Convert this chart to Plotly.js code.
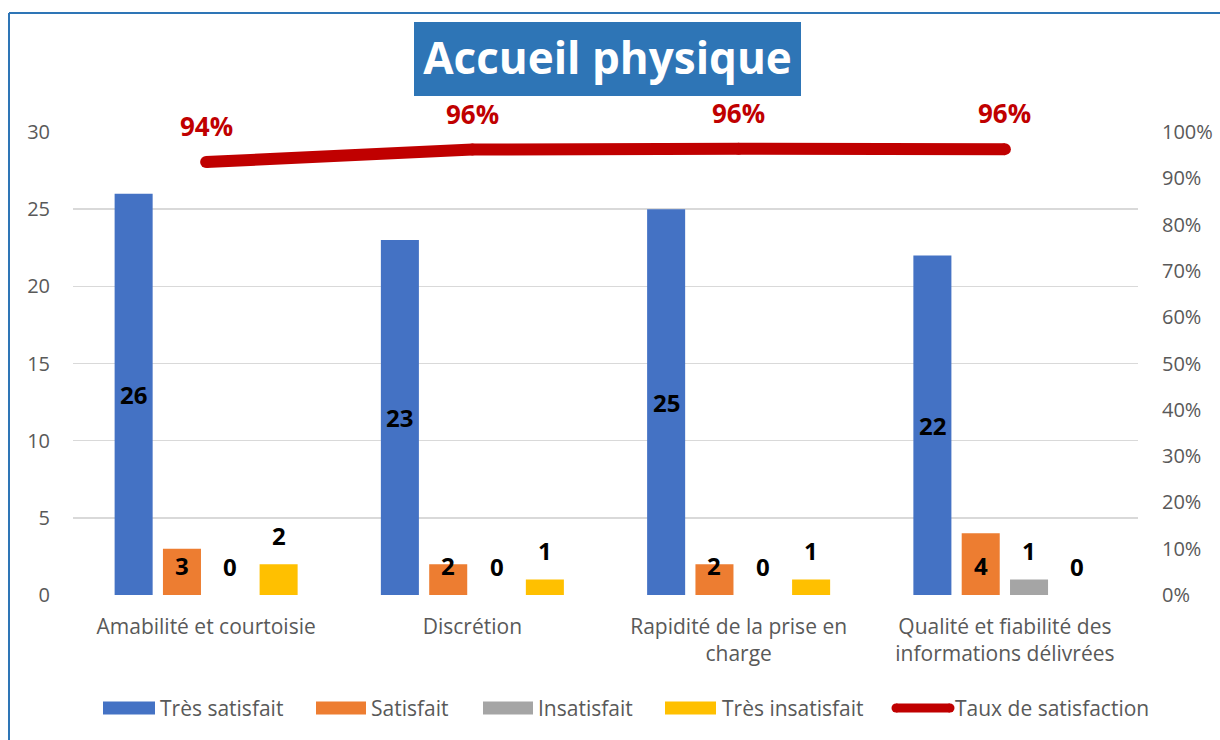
<!DOCTYPE html>
<html>
<head>
<meta charset="utf-8">
<script src="https://cdn.plot.ly/plotly-3.0.1.min.js"></script>
<style>
  html, body { margin: 0; padding: 0; background: #ffffff; }
  #chart { width: 1220px; height: 740px; }
</style>
</head>
<body>
<div id="chart"></div>
<script>
// ---- Data ----
const categories = ['Amabilité et courtoisie', 'Discrétion', 'Rapidité de la prise en charge', 'Qualité et fiabilité des informations délivrées'];
const tickLabels = ['Amabilité et courtoisie', 'Discrétion', 'Rapidité de la prise en<br>charge', 'Qualité et fiabilité des<br>informations délivrées'];
const tresSatisfait = [26, 23, 25, 22];
const satisfait = [3, 2, 2, 4];
const insatisfait = [0, 0, 0, 1];
const tresInsatisfait = [2, 1, 1, 0];
const tauxSatisfaction = [0.935, 0.962, 0.964, 0.963];
const seriesNames = ['Très satisfait', 'Satisfait', 'Insatisfait', 'Très insatisfait', 'Taux de satisfaction'];
const leftTicks = [0, 5, 10, 15, 20, 25, 30];
const rightTicks = [0, 0.1, 0.2, 0.3, 0.4, 0.5, 0.6, 0.7, 0.8, 0.9, 1.0];

// ---- Style ----
const colors = ['#4472C4', '#ED7D31', '#A5A5A5', '#FFC000', '#C00000'];
const FONT = '"Open Sans", "Noto Sans", sans-serif';
const W = 1220, H = 740;
const M = { l: 73, r: 82, t: 132, b: 145 };
const PW = W - M.l - M.r, PH = H - M.t - M.b;
const px2x = p => (p - M.l) / PW;
const px2y = p => (H - M.b - p) / PH;

const barSeries = [tresSatisfait, satisfait, insatisfait, tresInsatisfait];
const traces = barSeries.map((vals, i) => ({
  type: 'bar', name: seriesNames[i], x: categories, y: vals,
  marker: { color: colors[i] }, showlegend: false, hoverinfo: 'x+y+name'
}));
traces.push({
  type: 'scatter', mode: 'lines+markers', name: seriesNames[4], x: categories, y: tauxSatisfaction,
  yaxis: 'y2', line: { color: colors[4], width: 12 }, marker: { color: colors[4], size: 12 },
  showlegend: false
});

// ---- Data labels ----
const slot = 48.3; // px per bar slot in a group
const annotations = [];
barSeries.forEach((vals, i) => {
  const xs = (i - 1.5) * slot;
  vals.forEach((v, j) => {
    let a = { x: categories[j], xref: 'x', yref: 'y', xshift: xs, text: String(v), showarrow: false,
      font: { family: FONT, size: 24, color: '#000000', weight: 'bold' }, yanchor: 'middle' };
    if (i === 0) { a.y = v / 2; }
    else if (i === 1) { a.y = 0; a.yshift = 30; }
    else { a.y = v; a.yshift = 29; }
    annotations.push(a);
  });
});
tauxSatisfaction.forEach((v, j) => {
  annotations.push({ x: categories[j], y: v, xref: 'x', yref: 'y2', yshift: 36, yanchor: 'middle',
    text: Math.round(v * 100) + '%', showarrow: false,
    font: { family: FONT, size: 26, color: '#C00000', weight: 'bold' } });
});

// ---- Custom legend ----
const shapes = [];
const legendY = 708;
const legendItems = [
  { sx0: 103, sx1: 155, tx: 158 },
  { sx0: 316, sx1: 366, tx: 369 },
  { sx0: 483, sx1: 533, tx: 536 },
  { sx0: 665, sx1: 716, tx: 720 },
  { sx0: 896, sx1: 950, tx: 953 }
];
legendItems.forEach((it, i) => {
  if (i < 4) {
    shapes.push({ type: 'rect', xref: 'paper', yref: 'paper', x0: px2x(it.sx0), x1: px2x(it.sx1),
      y0: px2y(legendY + 6.5), y1: px2y(legendY - 6.5), fillcolor: colors[i], line: { width: 0 } });
  } else {
    shapes.push({ type: 'line', xref: 'paper', yref: 'paper', x0: px2x(it.sx0), x1: px2x(it.sx1),
      y0: px2y(legendY), y1: px2y(legendY), line: { color: colors[i], width: 9 } });
    shapes.push({ type: 'circle', xref: 'paper', yref: 'paper', x0: px2x(it.sx0 - 4.5), x1: px2x(it.sx0 + 4.5),
      y0: px2y(legendY + 4.5), y1: px2y(legendY - 4.5), fillcolor: colors[i], line: { width: 0 } });
    shapes.push({ type: 'circle', xref: 'paper', yref: 'paper', x0: px2x(it.sx1 - 4.5), x1: px2x(it.sx1 + 4.5),
      y0: px2y(legendY + 4.5), y1: px2y(legendY - 4.5), fillcolor: colors[i], line: { width: 0 } });
  }
  annotations.push({ xref: 'paper', yref: 'paper', x: px2x(it.tx), y: px2y(legendY), xanchor: 'left', yanchor: 'middle',
    text: seriesNames[i], showarrow: false, font: { family: FONT, size: 21, color: '#595959' } });
});

// title background box
shapes.push({ type: 'rect', xref: 'paper', yref: 'paper', x0: px2x(414), x1: px2x(801), y0: px2y(96), y1: px2y(22),
  fillcolor: '#2E75B6', line: { width: 0 }, layer: 'above' });
// chart border (left and top)
shapes.push({ type: 'line', xref: 'paper', yref: 'paper', x0: px2x(9), x1: px2x(9), y0: px2y(13), y1: px2y(745),
  line: { color: '#2E75B6', width: 2 } });
shapes.push({ type: 'line', xref: 'paper', yref: 'paper', x0: px2x(9), x1: px2x(1225), y0: px2y(13), y1: px2y(13),
  line: { color: '#2E75B6', width: 2 } });

const layout = {
  width: W, height: H,
  margin: M,
  paper_bgcolor: '#ffffff', plot_bgcolor: '#ffffff',
  font: { family: FONT, color: '#595959' },
  title: { text: 'Accueil physique', x: 607.5 / W, xref: 'container', xanchor: 'center',
    y: 1 - 59 / H, yref: 'container', yanchor: 'middle',
    font: { family: FONT, size: 44, color: '#ffffff', weight: 'bold' } },
  barmode: 'group', bargap: 0.274, bargroupgap: 0.213,
  showlegend: false,
  xaxis: { type: 'category', tickvals: categories, ticktext: tickLabels, showgrid: false,
    showline: false, zeroline: false, ticks: '', ticklabelstandoff: 17,
    tickfont: { family: FONT, size: 21, color: '#595959' }, fixedrange: true },
  yaxis: { range: [0, 30], tickvals: leftTicks, showgrid: true, gridcolor: '#D9D9D9', gridwidth: 1.5,
    zeroline: false, showline: false, ticks: '', ticklabelstandoff: 22,
    tickfont: { family: FONT, size: 20, color: '#595959' }, fixedrange: true },
  yaxis2: { range: [0, 1], tickvals: rightTicks, tickformat: '.0%', overlaying: 'y', side: 'right',
    showgrid: false, zeroline: false, showline: false, ticks: '', ticklabelstandoff: 23,
    tickfont: { family: FONT, size: 20, color: '#595959' }, fixedrange: true },
  shapes: shapes,
  annotations: annotations
};

Plotly.newPlot('chart', traces, layout, { displayModeBar: false, staticPlot: true });
</script>
</body>
</html>
